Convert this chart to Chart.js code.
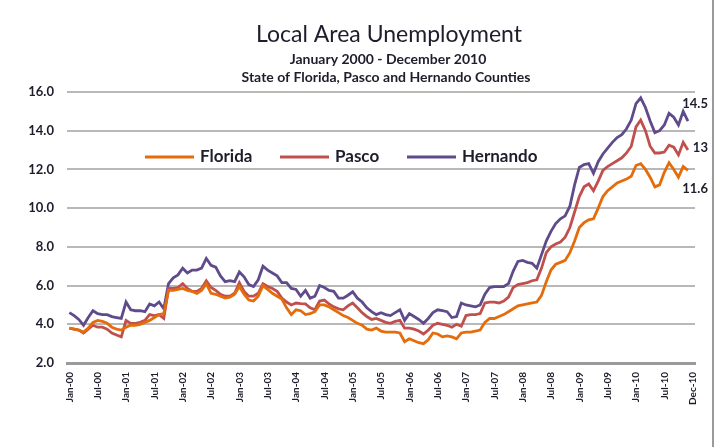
<!DOCTYPE html>
<html>
<head>
<meta charset="utf-8">
<script src="https://cdn.jsdelivr.net/npm/chart.js@4.4.1/dist/chart.umd.min.js"></script>
<style>
html,body{margin:0;padding:0;background:#fff;}
#wrap{position:relative;width:720px;height:447px;}
</style>
</head>
<body>
<div id="wrap"><canvas id="c" width="720" height="447"></canvas></div>
<script>
const seriesNames = ["Florida", "Pasco", "Hernando"];
const seriesColors = ["#E46C0A", "#C0504D", "#5F4B8B"];
const endLabels = ["11.6", "13", "14.5"];
const yTicks = [2, 4, 6, 8, 10, 12, 14, 16];
const xTickIdx = [0,6,12,18,24,30,36,42,48,54,60,66,72,78,84,90,96,102,108,114,120,126,132];
const xTickLabels = ["Jan-00","Jul-00","Jan-01","Jul-01","Jan-02","Jul-02","Jan-03","Jul-03","Jan-04","Jul-04","Jan-05","Jul-05","Jan-06","Jul-06","Jan-07","Jul-07","Jan-08","Jul-08","Jan-09","Jul-09","Jan-10","Jul-10","Dec-10"];

const florida = [
3.8,3.75,3.7,3.6,3.8,4.1,4.2,4.15,4.05,3.85,3.75,3.7,
3.85,3.95,3.95,4.0,4.1,4.2,4.35,4.5,4.55,5.75,5.75,5.8,
5.85,5.75,5.7,5.6,5.75,6.1,5.6,5.55,5.45,5.35,5.4,5.55,
5.95,5.55,5.25,5.2,5.45,6.0,5.8,5.6,5.45,5.3,4.85,4.5,
4.75,4.7,4.5,4.55,4.65,5.0,5.0,4.9,4.75,4.6,4.45,4.35,
4.2,4.05,3.95,3.75,3.7,3.8,3.65,3.6,3.6,3.6,3.55,3.1,
3.25,3.15,3.05,3.0,3.2,3.55,3.5,3.35,3.4,3.35,3.25,3.55,
3.6,3.6,3.65,3.7,4.1,4.3,4.3,4.4,4.5,4.65,4.8,4.95,
5.0,5.05,5.1,5.15,5.5,6.2,6.8,7.1,7.2,7.3,7.7,8.3,
9.0,9.25,9.4,9.45,10.0,10.6,10.9,11.1,11.3,11.4,11.5,11.65,
12.2,12.3,12.0,11.6,11.1,11.2,11.85,12.35,12.0,11.6,12.15,11.95];

const pasco = [
3.8,3.75,3.7,3.55,3.75,3.95,3.85,3.85,3.75,3.55,3.45,3.35,
4.2,4.05,4.05,4.1,4.2,4.5,4.45,4.5,4.3,5.85,5.85,5.9,
6.1,5.85,5.7,5.7,5.85,6.25,5.9,5.75,5.55,5.45,5.45,5.6,
6.15,5.7,5.45,5.45,5.6,6.1,5.95,5.85,5.7,5.35,5.15,5.0,
5.1,5.07,5.05,4.85,4.75,5.2,5.25,5.05,4.9,4.8,4.75,4.95,
5.1,4.85,4.6,4.4,4.25,4.3,4.2,4.1,4.05,4.15,4.2,3.8,
3.8,3.75,3.65,3.5,3.7,3.95,4.05,4.0,3.95,3.85,4.0,3.9,
4.45,4.5,4.5,4.55,5.1,5.15,5.15,5.1,5.2,5.4,5.9,6.05,
6.1,6.15,6.25,6.3,6.9,7.7,8.0,8.15,8.25,8.5,9.0,9.8,
10.6,11.1,11.25,10.9,11.4,11.95,12.15,12.3,12.45,12.6,12.85,13.2,
14.2,14.55,14.0,13.2,12.85,12.85,12.9,13.25,13.15,12.75,13.4,13.0];

const hernando = [
4.6,4.45,4.25,3.95,4.35,4.7,4.55,4.5,4.5,4.4,4.35,4.3,
5.15,4.75,4.7,4.7,4.65,5.05,4.95,5.15,4.8,6.1,6.4,6.55,
6.9,6.65,6.8,6.8,6.9,7.4,7.05,6.95,6.5,6.2,6.25,6.2,
6.7,6.45,6.05,5.95,6.3,7.0,6.8,6.65,6.5,6.15,6.15,5.85,
5.8,5.45,5.75,5.35,5.45,6.0,5.9,5.75,5.7,5.35,5.35,5.5,
5.68,5.35,5.15,4.85,4.65,4.5,4.6,4.5,4.45,4.6,4.75,4.2,
4.55,4.4,4.25,4.05,4.3,4.6,4.75,4.7,4.65,4.35,4.4,5.1,
5.0,4.95,4.9,5.0,5.55,5.9,5.95,5.95,5.95,6.1,6.75,7.25,
7.3,7.2,7.15,6.9,7.6,8.3,8.8,9.2,9.45,9.6,10.1,11.2,
12.1,12.25,12.3,11.8,12.4,12.8,13.1,13.4,13.65,13.8,14.1,14.55,
15.4,15.7,15.2,14.5,13.9,14.0,14.3,14.9,14.7,14.3,15.0,14.5];

const seriesData = [florida, pasco, hernando];
const endOffsets = [18, -2, -17];

const TXT = "#1d1d2b";

const decorPlugin = {
  id: "decor",
  afterDraw(chart) {
    const ctx = chart.ctx;
    const xs = chart.scales.x, ys = chart.scales.y;
    ctx.save();
    ctx.fillStyle = TXT;
    ctx.textAlign = "center";
    ctx.textBaseline = "middle";
    ctx.font = "23px Lato";
    ctx.fillText("Local Area Unemployment", 389, 35);
    ctx.font = "bold 14px Lato";
    ctx.fillText("January 2000 - December 2010", 388, 59);
    ctx.fillText("State of Florida, Pasco and Hernando Counties", 386, 77);

    // legend
    const legX = [145, 280, 407];
    const legY = 157;
    ctx.font = "bold 17px Lato";
    ctx.textAlign = "left";
    seriesNames.forEach((n, k) => {
      ctx.strokeStyle = seriesColors[k];
      ctx.lineWidth = 2.8;
      ctx.beginPath();
      ctx.moveTo(legX[k], legY);
      ctx.lineTo(legX[k] + 49, legY);
      ctx.stroke();
      ctx.fillStyle = TXT;
      ctx.fillText(n, legX[k] + 55, legY);
    });

    // end labels
    ctx.font = "bold 13px Lato";
    ctx.textAlign = "right";
    seriesData.forEach((arr, k) => {
      const last = arr.length - 1;
      const px = xs.getPixelForValue(last) + 20;
      const py = ys.getPixelForValue(arr[last]) + endOffsets[k];
      ctx.fillText(endLabels[k], px, py);
    });

    // right frame line
    ctx.strokeStyle = "#9a9a9a";
    ctx.lineWidth = 2;
    ctx.beginPath();
    ctx.moveTo(713, 0);
    ctx.lineTo(713, 447);
    ctx.stroke();
    ctx.restore();
  }
};

new Chart(document.getElementById("c"), {
  type: "line",
  data: {
    datasets: seriesNames.map((n, k) => ({
      label: n,
      data: seriesData[k].map((v, i) => ({ x: i, y: v })),
      borderColor: seriesColors[k],
      backgroundColor: seriesColors[k],
      borderWidth: 2.8,
      pointRadius: 0,
      tension: 0,
      fill: false
    }))
  },
  options: {
    responsive: false,
    animation: false,
    devicePixelRatio: 1,
    layout: { padding: { left: 0, right: 25, top: 92, bottom: 0 } },
    plugins: { legend: { display: false }, title: { display: false }, tooltip: { enabled: false } },
    scales: {
      x: {
        type: "linear",
        min: -0.5,
        max: 132.5,
        afterBuildTicks(s) { s.ticks = xTickIdx.map(v => ({ value: v })); },
        afterFit(s) { s.height = 84; },
        grid: { display: false, drawTicks: false },
        border: { display: true, color: "#9a9a9a", width: 3 },
        ticks: {
          autoSkip: false,
          minRotation: 90,
          maxRotation: 90,
          padding: 9,
          color: TXT,
          font: { family: "Lato", size: 10, weight: "bold" },
          callback(v) { const k = xTickIdx.indexOf(v); return k >= 0 ? xTickLabels[k] : ""; }
        }
      },
      y: {
        min: 2,
        max: 16,
        afterBuildTicks(s) { s.ticks = yTicks.map(v => ({ value: v })); },
        afterFit(s) { s.width = 67; },
        grid: { color: "#b8b8b8", lineWidth: 2, drawTicks: false },
        border: { display: false },
        ticks: {
          padding: 13,
          color: TXT,
          font: { family: "Lato", size: 13, weight: "bold" },
          callback(v) { return Number(v).toFixed(1); }
        }
      }
    }
  },
  plugins: [decorPlugin]
});
</script>
</body>
</html>
